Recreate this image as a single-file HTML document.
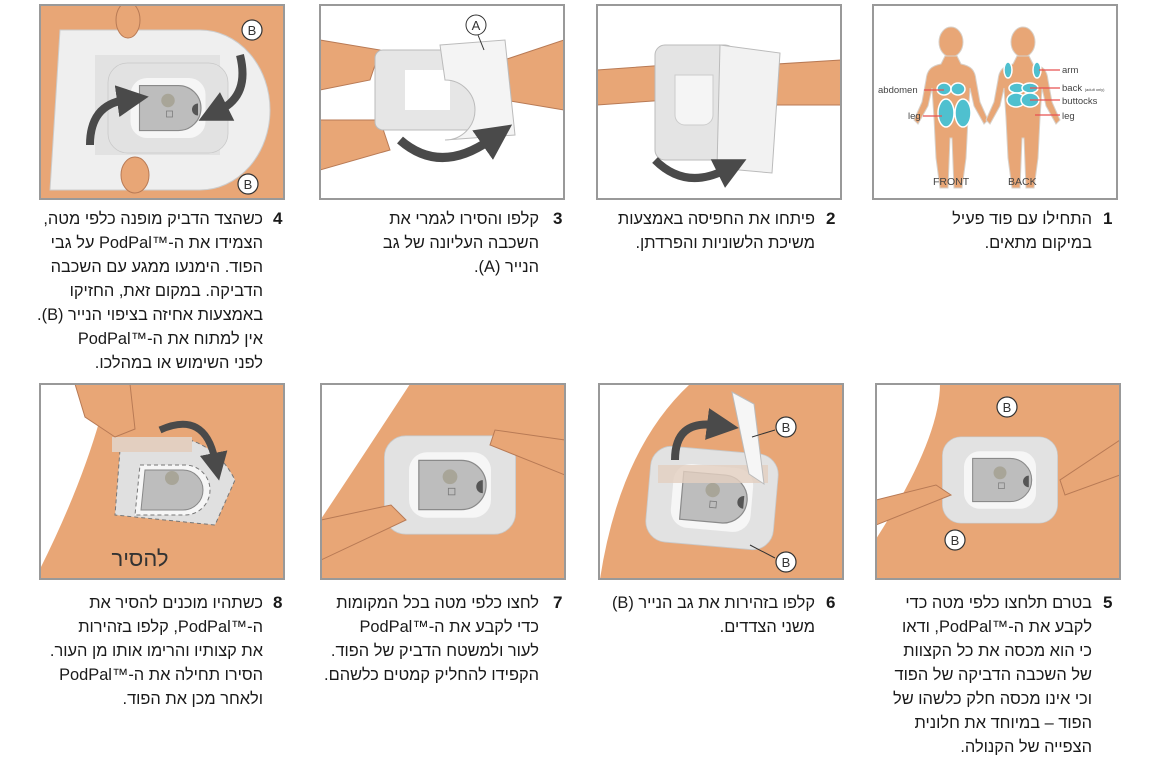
<!DOCTYPE html>
<html><head><meta charset="utf-8"><style>
body{margin:0;width:1175px;height:754px;background:#fff;position:relative;overflow:hidden;font-family:"Liberation Sans","DejaVu Sans",sans-serif;}
svg{position:absolute;left:0;top:0}
.t{position:absolute;direction:rtl;text-align:right;font-size:16.4px;line-height:24px;color:#1a1a1a;white-space:nowrap}
.n{position:absolute;font-size:17px;font-weight:bold;line-height:24px;color:#1a1a1a}
</style></head><body>
<svg width="1175" height="754" viewBox="0 0 1175 754">
<defs>
<g id="pod">
<rect x="-80" y="-60" width="160" height="120" rx="26" fill="#e2e2e2" stroke="#c8c8c8"/>
<rect x="-50" y="-40" width="100" height="80" rx="22" fill="#f6f6f6"/>
<path d="M-38,-30 H14 A30,30 0 0 1 14,30 H-38 Z" fill="#bdbdbd" stroke="#8a8a8a" stroke-width="1.5"/>
<circle cx="0" cy="-10" r="9" fill="#a8a598"/>
<rect x="-2" y="4" width="8" height="8" fill="none" stroke="#7a7a7a"/>
<path d="M40,-6 A8,8 0 0 0 40,10 Z" fill="#555"/>
</g>
<marker id="ah" markerWidth="4" markerHeight="4" refX="1" refY="2" orient="auto"><path d="M0,0 L4,2 L0,4 Z" fill="#4a4a4a"/></marker>
<g id="B"><circle r="10" fill="#fff" stroke="#333" stroke-width="1.2"/><text y="5" text-anchor="middle" font-size="13" font-family="Liberation Sans" fill="#333">B</text></g>
<clipPath id="c1"><rect x="873" y="5" width="244" height="194"/></clipPath>
<clipPath id="c2"><rect x="597" y="5" width="244" height="194"/></clipPath>
<clipPath id="c3"><rect x="320" y="5" width="244" height="194"/></clipPath>
<clipPath id="c4"><rect x="40" y="5" width="244" height="194"/></clipPath>
<clipPath id="c5"><rect x="876" y="384" width="244" height="195"/></clipPath>
<clipPath id="c6"><rect x="599" y="384" width="244" height="195"/></clipPath>
<clipPath id="c7"><rect x="321" y="384" width="244" height="195"/></clipPath>
<clipPath id="c8"><rect x="40" y="384" width="244" height="195"/></clipPath>
</defs>

<g clip-path="url(#c1)">
<g fill="#e8a676" stroke="#d8d0c8" stroke-width="1">
<ellipse cx="951" cy="42" rx="12" ry="15"/>
<path d="M945,56 h12 l4,8 c10,2 14,6 15,16 l4,22 l8,18 l-4,4 l-10,-18 l-4,-18 l-2,30 l-2,40 l-4,30 h-8 l-2,-50 l-2,0 l-2,50 h-8 l-4,-30 l-2,-40 l-2,-30 l-4,18 l-10,18 l-4,-4 l8,-18 l4,-22 c1,-10 5,-14 15,-16 z"/>
<ellipse cx="1023" cy="42" rx="12" ry="15"/>
<path d="M1017,56 h12 l4,8 c10,2 14,6 15,16 l4,22 l8,18 l-4,4 l-10,-18 l-4,-18 l-2,30 l-2,40 l-4,30 h-8 l-2,-50 l-2,0 l-2,50 h-8 l-4,-30 l-2,-40 l-2,-30 l-4,18 l-10,18 l-4,-4 l8,-18 l4,-22 c1,-10 5,-14 15,-16 z"/>
</g>
<g fill="#4fc0cf" stroke="#fff" stroke-width="1.5">
<ellipse cx="944" cy="89" rx="7" ry="6"/><ellipse cx="958" cy="89" rx="7" ry="6"/>
<ellipse cx="946" cy="113" rx="8" ry="14"/><ellipse cx="963" cy="113" rx="8" ry="14"/>
<ellipse cx="1008" cy="70" rx="4" ry="8"/><ellipse cx="1037" cy="70" rx="4" ry="8"/>
<ellipse cx="1017" cy="88" rx="8" ry="5"/><ellipse cx="1030" cy="88" rx="8" ry="5"/>
<ellipse cx="1016" cy="100" rx="9" ry="7"/><ellipse cx="1030" cy="100" rx="9" ry="7"/>
</g>
<g stroke="#e85050" stroke-width="1.2"><line x1="924" y1="90" x2="944" y2="90"/><line x1="923" y1="116" x2="942" y2="116"/><line x1="1039" y1="70" x2="1060" y2="70"/><line x1="1030" y1="88" x2="1060" y2="88"/><line x1="1030" y1="100" x2="1060" y2="100"/><line x1="1035" y1="115" x2="1060" y2="115"/></g>
<g font-family="Liberation Sans" font-size="9.5" fill="#444">
<text x="878" y="93">abdomen</text><text x="908" y="119">leg</text>
<text x="1062" y="73">arm</text><text x="1062" y="91">back <tspan font-size="4">(adult only)</tspan></text><text x="1062" y="104">buttocks</text><text x="1062" y="119">leg</text>
<text x="933" y="185" font-size="10.5">FRONT</text><text x="1008" y="185" font-size="10.5">BACK</text>
</g>
</g>
<rect x="873" y="5" width="244" height="194" fill="none" stroke="#999" stroke-width="2"/>

<g clip-path="url(#c2)">
<path d="M597,70 l70,-5 l0,35 l-70,5z" fill="#e8a676" stroke="#b87a55"/>
<path d="M841,60 l-80,5 l0,40 l80,0z" fill="#e8a676" stroke="#b87a55"/>
<rect x="655" y="45" width="80" height="115" rx="10" fill="#e4e4e4" stroke="#bbb"/>
<path d="M675,75 h38 v40 a10,10 0 0 1 -10,10 h-18 a10,10 0 0 1 -10,-10z" fill="#f5f5f5" stroke="#ccc"/>
<path d="M720,45 l60,8 l-8,120 l-55,-5z" fill="#f2f2f2" stroke="#bbb"/>
<path d="M655,160 q30,30 70,10" stroke="#4a4a4a" stroke-width="8" fill="none" marker-end="url(#ah)"/>
</g>
<rect x="597" y="5" width="244" height="194" fill="none" stroke="#999" stroke-width="2"/>

<g clip-path="url(#c3)">
<path d="M320,40 l60,10 l-10,30 l-50,10z" fill="#e8a676" stroke="#b87a55"/>
<path d="M320,120 l60,0 l10,30 l-70,20z" fill="#e8a676" stroke="#b87a55"/>
<path d="M564,40 l-60,20 l0,40 l60,10z" fill="#e8a676" stroke="#b87a55"/>
<rect x="375" y="50" width="110" height="80" rx="8" fill="#e6e6e6" stroke="#bbb"/>
<rect x="405" y="70" width="45" height="40" fill="#fff"/>
<path d="M440,45 l65,-5 l10,95 l-70,5 a30,30 0 0 0 0,-60z" fill="#f4f4f4" stroke="#bbb"/>
<path d="M400,140 q40,35 90,0" stroke="#4a4a4a" stroke-width="9" fill="none" marker-end="url(#ah)"/>
<circle cx="476" cy="25" r="10" fill="#fff" stroke="#333"/><text x="476" y="30" text-anchor="middle" font-size="13" font-family="Liberation Sans" fill="#333">A</text>
<line x1="478" y1="35" x2="484" y2="50" stroke="#333"/>
</g>
<rect x="320" y="5" width="244" height="194" fill="none" stroke="#999" stroke-width="2"/>

<g clip-path="url(#c4)">
<rect x="40" y="5" width="244" height="194" fill="#e8a676"/>
<path d="M60,30 h140 a70,80 0 0 1 0,160 h-150 z" fill="#efefef" stroke="#ccc"/>
<rect x="95" y="55" width="125" height="100" fill="#e2e2e2"/>
<rect x="120" y="70" width="95" height="75" rx="20" fill="#e8a676"/>
<g transform="translate(168,108) scale(0.75)"><use href="#pod"/></g>
<path d="M90,145 q0,-40 35,-45" stroke="#4a4a4a" stroke-width="8" fill="none" marker-end="url(#ah)"/>
<path d="M240,55 q10,40 -20,55" stroke="#4a4a4a" stroke-width="8" fill="none" marker-end="url(#ah)"/>
<ellipse cx="128" cy="20" rx="12" ry="18" fill="#e8a676" stroke="#b87a55"/>
<ellipse cx="135" cy="175" rx="14" ry="18" fill="#e8a676" stroke="#b87a55"/>
<use href="#B" x="252" y="30"/><use href="#B" x="248" y="184"/>
</g>
<rect x="40" y="5" width="244" height="194" fill="none" stroke="#999" stroke-width="2"/>

<g clip-path="url(#c5)">
<path d="M876,384 h244 v195 h-244 v-40 q60,-100 60,-155z" fill="#fff"/>
<path d="M940,384 h180 v195 h-244 v-40 q64,-100 64,-155z" fill="#e8a676"/>
<g transform="translate(1000,480) scale(0.72)"><use href="#pod"/></g>
<path d="M876,500 l60,-15 l15,10 l-75,30z" fill="#e8a676" stroke="#b87a55"/>
<path d="M1120,440 l-60,40 l5,15 l55,-20z" fill="#e8a676" stroke="#b87a55"/>
<use href="#B" x="1007" y="407"/><use href="#B" x="955" y="540"/>
</g>
<rect x="876" y="384" width="244" height="195" fill="none" stroke="#999" stroke-width="2"/>

<g clip-path="url(#c6)">
<path d="M690,384 h153 v195 h-243 q20,-130 90,-195z" fill="#e8a676"/>
<g transform="translate(712,498) scale(0.8) rotate(5)"><use href="#pod"/></g>
<rect x="658" y="465" width="110" height="18" fill="#e3cfc0" opacity="0.8"/>
<path d="M732,392 l22,12 l10,80 l-15,-10z" fill="#f6f6f6" stroke="#bbb"/>
<path d="M675,460 q0,-40 40,-35" stroke="#4a4a4a" stroke-width="8" fill="none" marker-end="url(#ah)"/>
<line x1="752" y1="437" x2="775" y2="430" stroke="#333"/><use href="#B" x="786" y="427"/>
<line x1="750" y1="545" x2="775" y2="558" stroke="#333"/><use href="#B" x="786" y="562"/>
</g>
<rect x="599" y="384" width="244" height="195" fill="none" stroke="#999" stroke-width="2"/>

<g clip-path="url(#c7)">
<path d="M410,384 h155 v195 h-244 v-60 q40,-60 89,-135z" fill="#e8a676"/>
<g transform="translate(450,485) scale(0.82)"><use href="#pod"/></g>
<path d="M321,520 l70,-15 l15,15 l-85,40z" fill="#e8a676" stroke="#b87a55"/>
<path d="M565,440 l-70,-10 l-5,15 l75,30z" fill="#e8a676" stroke="#b87a55"/>
</g>
<rect x="321" y="384" width="244" height="195" fill="none" stroke="#999" stroke-width="2"/>

<g clip-path="url(#c8)">
<path d="M100,384 h184 v195 h-244 v-10 q40,-80 60,-150z" fill="#e8a676"/>
<path d="M120,450 l70,-10 q30,10 45,40 l-20,45 l-100,-10 z" fill="#e0e0e0" stroke="#777" stroke-dasharray="4,3"/>
<path d="M140,465 h45 a25,25 0 0 1 0,50 h-50 z" fill="#f6f6f6" stroke="#777" stroke-dasharray="4,3"/>
<path d="M145,470 h38 a20,20 0 0 1 0,40 h-42 z" fill="#bdbdbd" stroke="#888"/>
<circle cx="172" cy="478" r="7" fill="#a8a598"/>
<rect x="112" y="437" width="80" height="15" fill="#e3cfc0"/>
<path d="M160,430 q45,-20 55,30" stroke="#4a4a4a" stroke-width="7" fill="none" marker-end="url(#ah)"/>
<path d="M75,384 h55 l5,45 l-20,8 l-30,-20z" fill="#e8a676" stroke="#b87a55"/>
<text x="140" y="566" font-size="22" font-family="Liberation Sans,DejaVu Sans" fill="#333" direction="rtl" text-anchor="middle">להסיר</text>
</g>
<rect x="40" y="384" width="244" height="195" fill="none" stroke="#999" stroke-width="2"/>
</svg>

<div class="n" style="left:1103px;top:207px">1</div>
<div class="t" style="right:83px;top:207px">התחילו עם פוד פעיל<br>במיקום מתאים.</div>
<div class="n" style="left:826px;top:207px">2</div>
<div class="t" style="right:360px;top:207px">פיתחו את החפיסה באמצעות<br>משיכת הלשוניות והפרדתן.</div>
<div class="n" style="left:553px;top:207px">3</div>
<div class="t" style="right:636px;top:207px">קלפו והסירו לגמרי את<br>השכבה העליונה של גב<br>הנייר (A).</div>
<div class="n" style="left:273px;top:207px">4</div>
<div class="t" style="right:912px;top:207px">כשהצד הדביק מופנה כלפי מטה,<br>הצמידו את ה-™PodPal על גבי<br>הפוד. הימנעו ממגע עם השכבה<br>הדביקה. במקום זאת, החזיקו<br>באמצעות אחיזה בציפוי הנייר (B).<br>אין למתוח את ה-™PodPal<br>לפני השימוש או במהלכו.</div>
<div class="n" style="left:1103px;top:591px">5</div>
<div class="t" style="right:83px;top:591px">בטרם תלחצו כלפי מטה כדי<br>לקבע את ה-™PodPal, ודאו<br>כי הוא מכסה את כל הקצוות<br>של השכבה הדביקה של הפוד<br>וכי אינו מכסה חלק כלשהו של<br>הפוד – במיוחד את חלונית<br>הצפייה של הקנולה.</div>
<div class="n" style="left:826px;top:591px">6</div>
<div class="t" style="right:360px;top:591px">קלפו בזהירות את גב הנייר (B)<br>משני הצדדים.</div>
<div class="n" style="left:553px;top:591px">7</div>
<div class="t" style="right:636px;top:591px">לחצו כלפי מטה בכל המקומות<br>כדי לקבע את ה-™PodPal<br>לעור ולמשטח הדביק של הפוד.<br>הקפידו להחליק קמטים כלשהם.</div>
<div class="n" style="left:273px;top:591px">8</div>
<div class="t" style="right:912px;top:591px">כשתהיו מוכנים להסיר את<br>ה-™PodPal, קלפו בזהירות<br>את קצותיו והרימו אותו מן העור.<br>הסירו תחילה את ה-™PodPal<br>ולאחר מכן את הפוד.</div>
</body></html>
